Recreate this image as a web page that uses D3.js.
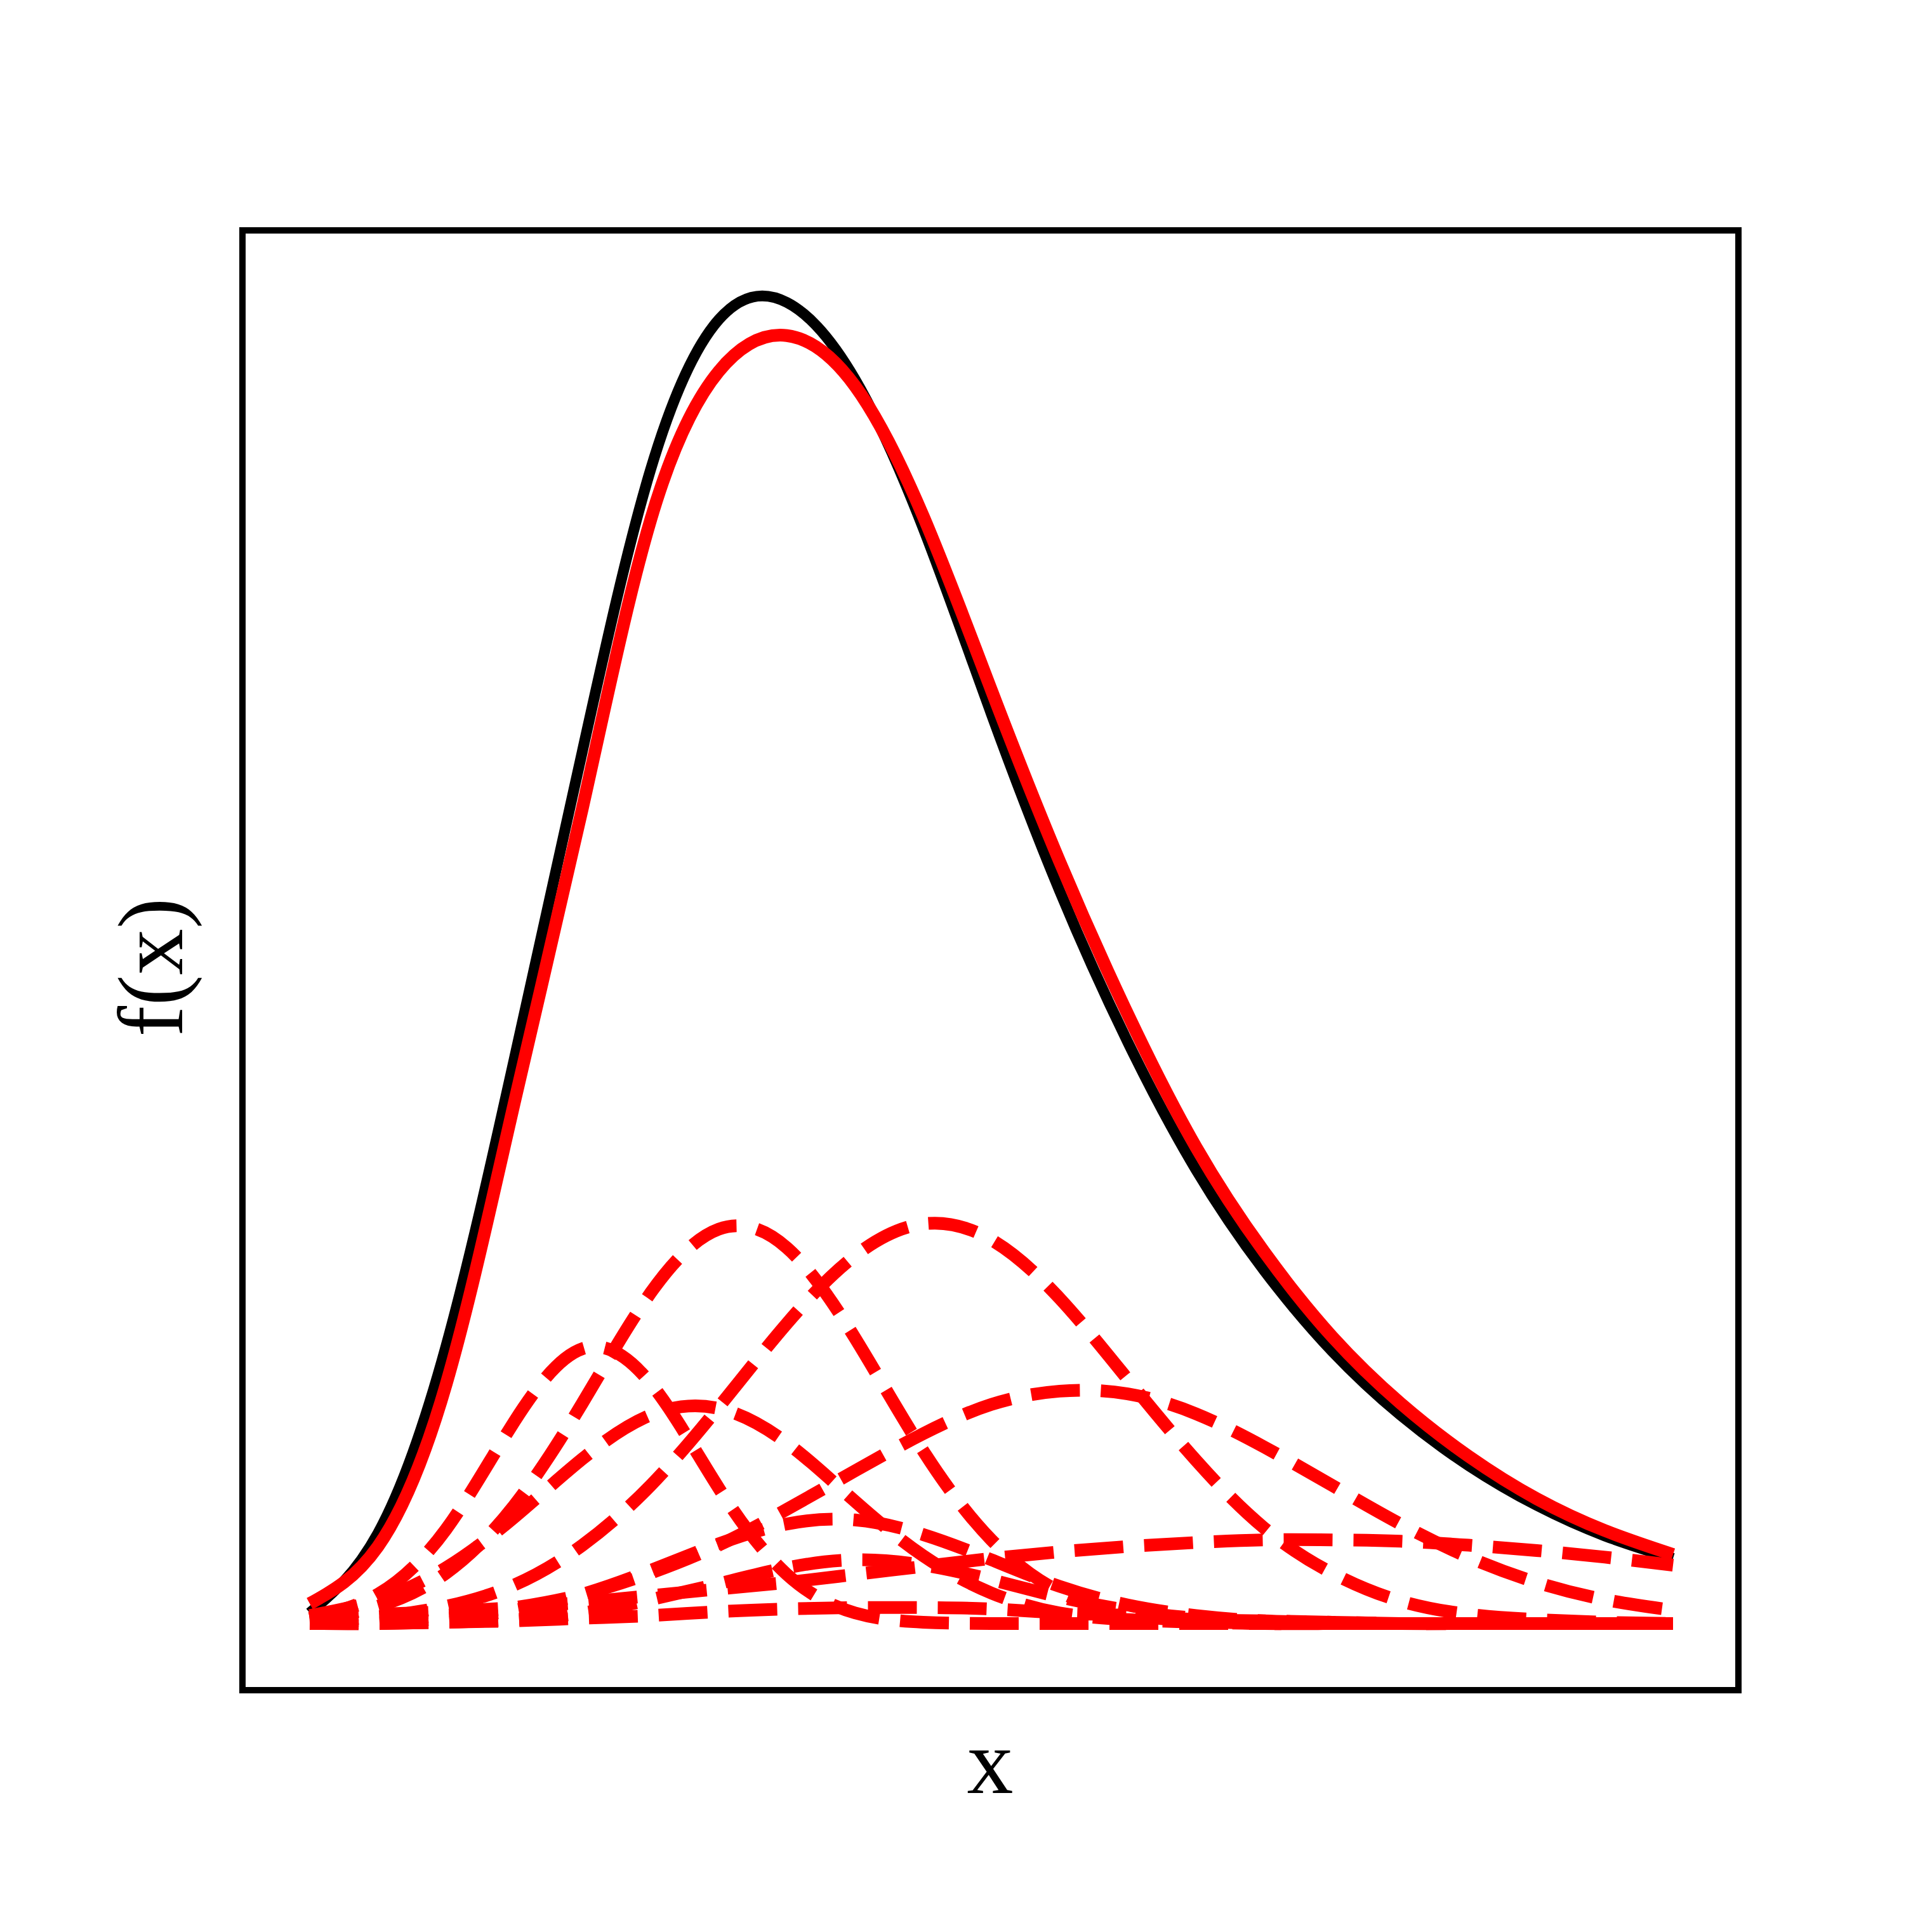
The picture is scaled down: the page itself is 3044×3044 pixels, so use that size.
<html>
<head>
	<title>Mixture fit</title>
	<meta charset="utf-8">
	<script src="https://d3js.org/d3.v7.min.js"></script>
	<style>
		body { margin: 0; background: #fff; }
	</style>
</head>
<body>
	<script type="text/javascript">
		var width = 3044
		var height = 3044

		// sample positions along x (no tick labels in the figure, arbitrary units)
		var xs = [0, 0.5, 1, 1.5, 2, 2.5, 3, 3.5, 4, 4.5, 5, 5.5, 6, 6.5, 7, 7.5, 8, 8.5, 9, 9.5, 10]

		// true density (black)
		var truePdf = [0.008, 0.068, 0.209, 0.425, 0.657, 0.869, 0.982, 0.995, 0.937, 0.825, 0.685,
			0.552, 0.438, 0.342, 0.266, 0.205, 0.157, 0.119, 0.089, 0.066, 0.049]

		// mixture fit (solid red)
		var mixPdf = [0.015, 0.058, 0.180, 0.392, 0.614, 0.831, 0.943, 0.970, 0.932, 0.834, 0.703,
			0.574, 0.459, 0.359, 0.280, 0.216, 0.166, 0.126, 0.094, 0.070, 0.052]

		// weighted components (dashed red)
		var compA = [0.003, 0.013, 0.038, 0.089, 0.166, 0.249, 0.297, 0.283, 0.215, 0.130, 0.063,
			0.024, 0.007, 0.002, 0, 0, 0, 0, 0, 0, 0]
		var compB = [0.002, 0.005, 0.013, 0.029, 0.059, 0.104, 0.163, 0.226, 0.277, 0.301, 0.289,
			0.245, 0.184, 0.123, 0.072, 0.038, 0.017, 0.007, 0.003, 0.001, 0]
		var compC = [0.004, 0.022, 0.071, 0.152, 0.207, 0.181, 0.102, 0.037, 0.008, 0.001, 0,
			0, 0, 0, 0, 0, 0, 0, 0, 0, 0]
		var compD = [0.006, 0.018, 0.042, 0.080, 0.124, 0.157, 0.162, 0.136, 0.092, 0.051, 0.023,
			0.008, 0.003, 0.001, 0, 0, 0, 0, 0, 0, 0]
		var compE = [0.001, 0.003, 0.006, 0.012, 0.022, 0.038, 0.059, 0.086, 0.115, 0.143, 0.165,
			0.175, 0.173, 0.158, 0.133, 0.104, 0.075, 0.050, 0.031, 0.018, 0.010]
		var compF = [0.005, 0.007, 0.009, 0.012, 0.016, 0.021, 0.026, 0.031, 0.037, 0.043, 0.049,
			0.054, 0.058, 0.061, 0.063, 0.063, 0.062, 0.059, 0.055, 0.050, 0.044]
		var compG = [0, 0.001, 0.004, 0.010, 0.022, 0.040, 0.060, 0.075, 0.078, 0.067, 0.048,
			0.028, 0.014, 0.006, 0.002, 0.001, 0, 0, 0, 0, 0]
		var compH = [0, 0, 0.001, 0.003, 0.008, 0.018, 0.030, 0.042, 0.048, 0.044, 0.033,
			0.020, 0.010, 0.004, 0.001, 0, 0, 0, 0, 0, 0]
		var compK = [0, 0, 0.001, 0.002, 0.004, 0.006, 0.009, 0.011, 0.012, 0.012, 0.011,
			0.008, 0.006, 0.003, 0.002, 0.001, 0, 0, 0, 0, 0]

		var components = [compA, compB, compC, compD, compE, compF, compG, compH, compK]

		var svg = d3.select("body").append("svg")
		  .attr("width", width)
		  .attr("height", height)

		svg.append("rect")
		  .attr("width", width).attr("height", height)
		  .attr("fill", "#fff")

		var scalex = d3.scaleLinear().domain([0, 10]).range([488, 2636])
		var scaley = d3.scaleLinear().domain([0, 1]).range([2558, 466])

		// natural spline through the sampled values
		var line = d3.line()
		  .x(function(d, i) { return scalex(xs[i]) })
		  .y(function(d) { return scaley(d) })
		  .curve(d3.curveNatural)

		var g = svg.append("g")

		g.append("path")
		  .attr("d", line(truePdf))
		  .attr("fill", "none")
		  .attr("stroke", "#000")
		  .attr("stroke-width", 17)
		  .attr("stroke-linejoin", "round")

		g.append("path")
		  .attr("d", line(mixPdf))
		  .attr("fill", "none")
		  .attr("stroke", "#ff0000")
		  .attr("stroke-width", 20)
		  .attr("stroke-linejoin", "round")

		g.selectAll(".comp")
		  .data(components)
		  .enter()
		  .append("path")
			.attr("class", "comp")
			.attr("d", d => line(d))
			.attr("fill", "none")
			.attr("stroke", "#ff0000")
			.attr("stroke-width", 20)
			.attr("stroke-dasharray", "77,33")
			.attr("stroke-linecap", "butt")
			.attr("stroke-linejoin", "round")

		// axes frame, no ticks
		svg.append("rect")
		  .attr("x", 382).attr("y", 363)
		  .attr("width", 2739 - 382).attr("height", 2663 - 363)
		  .attr("fill", "none")
		  .attr("stroke", "#000")
		  .attr("stroke-width", 10)

		svg.append("text")
		  .attr("x", 1560).attr("y", 2825)
		  .attr("text-anchor", "middle")
		  .style("font-family", "'Liberation Serif', 'DejaVu Serif', serif")
		  .style("font-size", "146px")
		  .text("x")

		svg.append("text")
		  .attr("transform", "translate(287,1524) rotate(-90)")
		  .attr("text-anchor", "middle")
		  .style("font-family", "'Liberation Serif', 'DejaVu Serif', serif")
		  .style("font-size", "146px")
		  .text("f(x)")
	</script>
</body>
</html>
